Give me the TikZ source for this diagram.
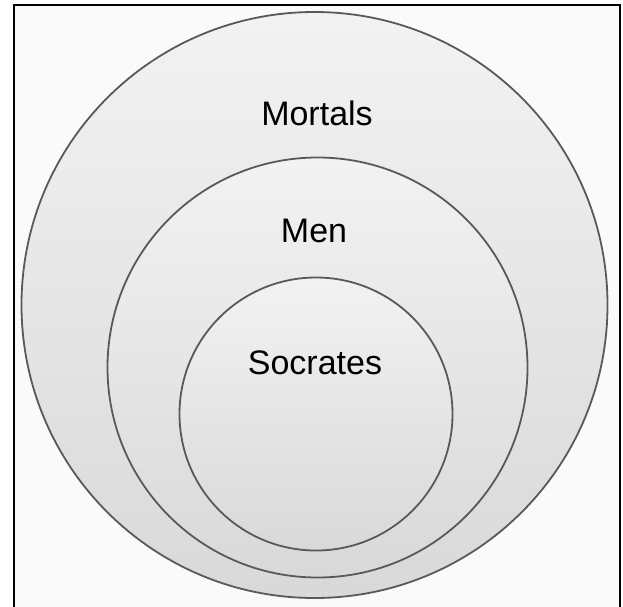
\documentclass[tikz,border=0pt]{standalone}
\usepackage{fontspec}
\setmainfont{Liberation Sans}
\tikzset{
  setcircle/.style={circle, draw=black!65, line width=1.8pt, inner sep=0pt,
    top color=black!5, bottom color=black!15, shading angle=0},
  setlabel/.style={font=\fontsize{34}{40}\selectfont, text=black, inner sep=0pt}
}
\begin{document}
\begin{tikzpicture}[x=1pt,y=-1pt]
\useasboundingbox (0,0) rectangle (623,606);
\clip (0,0) rectangle (623,606);
\fill[white] (0,0) rectangle (623,606);
\fill[black!2] (14,5) rectangle (620,612);
\draw[black, line width=1.3pt] (14,5) rectangle (620,612);
\node[setcircle, minimum size=586pt] (mortals) at (314.5,305) {};
\node[setcircle, minimum size=420pt] (men) at (317.5,367.5) {};
\node[setcircle, minimum size=273pt] (socrates) at (316,414) {};
\node[setlabel] (tmortals) at (317,113) {Mortals};
\node[setlabel] (tmen) at (314,231) {Men};
\node[setlabel] (tsocrates) at (315,363) {Socrates};
\end{tikzpicture}
\end{document}
